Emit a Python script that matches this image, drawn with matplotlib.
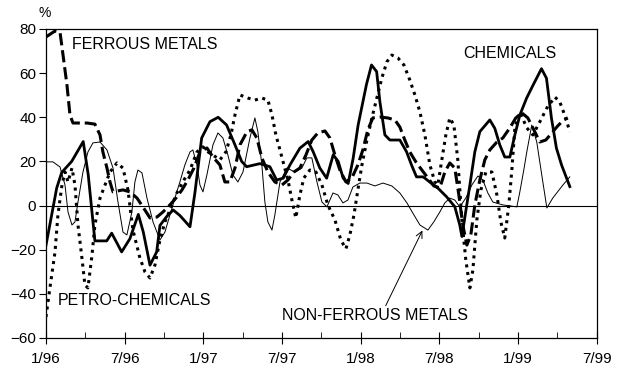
import numpy as np
import matplotlib
matplotlib.use('Agg')
import matplotlib.pyplot as plt

plt.rcParams['font.family'] = ['Liberation Sans', 'DejaVu Sans']

# x positions are months since 1/96
chem_m = [0, 0.82, 1.2, 1.96, 2.84, 3.22, 3.73, 4.63, 5.01, 5.77, 6.4, 7.04, 7.42, 7.93, 8.44,
          8.69, 9.2, 9.7, 10.21, 10.98, 11.36, 11.87, 12.5, 13.13, 13.77, 14.41, 14.92, 15.3,
          16.31, 17.07, 17.58, 18.09, 18.6, 19.36, 19.99, 20.37, 20.88, 21.4, 21.9, 22.28, 22.66,
          23.04, 23.42, 23.8, 24.44, 24.82, 25.21, 25.46, 25.84, 26.22, 26.98, 27.49, 27.87,
          28.25, 28.76, 29.4, 29.9, 30.54, 31.17, 31.55, 31.71, 32.32, 32.7, 33.08, 33.84, 34.22,
          34.6, 34.98, 35.37, 35.75, 36.13, 36.64, 37.14, 37.78, 38.16, 38.54, 38.92, 39.31, 39.94]
chem_v = [-18, 8, 15, 20, 29, 14, -16, -16, -12.5, -21, -15, -4, -12, -27, -21,
          -9, -5, -2, -4.5, -9.6, 6, 30.6, 38, 40, 36.5, 27.5, 20, 17.6,
          19, 17.6, 11.6, 12.4, 18.4, 26, 29, 24.4, 17, 12.4, 23, 20, 12.4,
          10, 21.4, 36.5, 55, 63.7, 60.7, 47, 32, 29.7, 29.7, 24.4, 18.4,
          13, 13, 10, 7.8, 4, -0.5, -8.8, -14, 9.3, 24.4, 33.5, 38.8, 35,
          27.5, 22, 22, 32, 41, 48.6, 54.6, 62, 57.7, 39.6, 26, 18.4, 8.6]

ferr_m = [0, 0.69, 1.07, 1.3, 1.6, 1.83, 2.06, 3.13, 3.73, 4.12, 4.34, 4.65, 4.88, 5.11, 5.87,
          6.4, 6.94, 7.39, 7.93, 8.46, 8.92, 9.45, 9.91, 10.37, 10.82, 11.28, 11.74, 12.27,
          12.73, 13.26, 13.64, 14.02, 14.41, 14.79, 15.32, 15.7, 16.08, 16.46, 16.92, 17.45,
          17.99, 18.45, 18.9, 19.36, 19.82, 20.27, 20.73, 21.27, 21.65, 22.03, 22.41, 22.87,
          23.32, 23.78, 24.16, 24.54, 24.92, 25.46, 26.07, 26.6, 26.98, 27.36, 27.74, 28.2,
          28.66, 29.12, 29.57, 30.03, 30.41, 30.79, 31.17, 31.48, 31.78, 32.09, 32.39, 32.7,
          33.08, 33.46, 33.84, 34.38, 34.83, 35.37, 35.82, 36.28, 36.74, 37.2, 37.65, 38.11,
          38.57, 39.02, 39.48, 39.79]
ferr_v = [76.4, 79.1, 78.6, 68.2, 54.6, 41.0, 37.4, 37.4, 36.9, 32.0, 24.3, 17.0, 10.7, 6.2, 7.1,
          6.2, 3.4, -0.6, -5.6, -5.2, -2.9, 0.3, 3.4, 7.1, 11.6, 17.0, 24.3, 26.1,
          22.0, 18.4, 10.7, 10.7, 17.0, 27.5, 33.4, 34.3, 30.6, 21.6, 15.2, 10.7,
          9.3, 11.6, 15.2, 17.0, 22.9, 29.7, 32.9, 33.8, 30.6, 22.9, 16.1, 10.7,
          12.5, 18.4, 25.2, 34.3, 39.7, 40.1, 39.7, 38.8, 35.6, 29.7, 24.3, 19.8,
          16.1, 12.5, 8.9, 8.0, 15.2, 19.3, 17.0, 4.8, -8.8, -17.9, -13.4, 0.3,
          11.6, 20.7, 25.2, 28.8, 30.6, 35.2, 39.7, 42.0, 39.7, 34.3, 28.8, 29.7,
          32.9, 36.1, 38.8, 39.7]

petro_m = [0, 0.3, 0.69, 0.91, 1.22, 1.45, 1.68, 1.98, 2.21, 2.44, 2.74, 2.97, 3.2, 3.51, 3.73,
           4.12, 4.5, 4.88, 5.41, 5.87, 6.25, 6.63, 7.16, 7.55, 7.93, 8.31, 8.69, 9.07, 9.45,
           9.98, 10.52, 10.98, 11.51, 11.97, 12.35, 12.73, 13.26, 13.72, 14.1, 14.41, 14.79,
           15.4, 15.93, 16.46, 16.92, 17.23, 17.53, 17.84, 18.14, 18.45, 18.75, 19.05, 19.36,
           19.66, 20.12, 20.58, 21.04, 21.49, 22.03, 22.48, 22.87, 23.17, 23.48, 23.78, 24.09,
           24.47, 24.85, 25.23, 25.61, 25.99, 26.37, 26.83, 27.29, 27.74, 28.13, 28.51, 28.89,
           29.27, 29.65, 29.88, 30.18, 30.49, 30.79, 31.1, 31.4, 31.71, 32.01, 32.32, 32.55,
           32.85, 33.16, 33.54, 34.0, 34.38, 34.68, 34.98, 35.29, 35.52, 35.75, 36.13, 36.66,
           37.12, 37.65, 38.19, 38.8, 39.18, 39.63, 39.94]
petro_v = [-50.5, -37.3, -21.0, -4.3, 9.3, 15.2, 10.7, 17.0, 9.3, -8.8, -23.7, -36.0, -37.3, -22.4, -8.8,
           3.4, 9.3, 15.2, 19.3, 17.0, 7.1, -11.1, -23.7, -30.1, -32.8, -26.9, -15.6, -7.4, -2.0,
           5.7, 11.6, 16.1, 24.3, 26.6, 24.3, 22.9, 20.7, 24.3, 32.0, 41.1, 50.1,
           48.7, 47.8, 48.7, 47.8, 41.1, 32.0, 25.2, 18.4, 11.6, 2.5, -5.6, 4.8,
           12.5, 16.1, 15.2, 9.3, 0.3, -6.5, -15.6, -19.6, -13.3, -4.3, 7.1, 18.4,
           29.7, 39.7, 48.8, 57.8, 65.1, 68.2, 66.9, 63.7, 56.9, 50.1, 42.4, 32.0,
           18.4, 10.7, 9.3, 20.7, 32.0, 39.7, 36.5, 20.7, -6.5, -24.6, -37.3, -29.2,
           -6.5, 7.1, 15.2, 15.2, 4.8, -7.4, -14.7, 0.3, 16.1, 35.2, 42.4, 35.2,
           32.0, 37.9, 44.2, 49.2, 46.9, 39.7, 33.4]

nonf_m = [0, 0.53, 1.07, 1.45, 1.68, 1.98, 2.21, 2.44, 2.82, 3.2, 3.58, 4.12, 4.65, 5.11, 5.49,
          5.87, 6.17, 6.55, 6.78, 7.01, 7.32, 7.7, 8.16, 8.69, 9.07, 9.45, 9.83, 10.21, 10.59,
          10.98, 11.2, 11.51, 11.74, 11.97, 12.27, 12.73, 13.11, 13.49, 13.87, 14.25, 14.63,
          15.02, 15.55, 15.93, 16.16, 16.46, 16.69, 16.92, 17.23, 17.45, 17.84, 18.37, 18.98,
          19.51, 19.89, 20.27, 20.66, 21.04, 21.42, 21.88, 22.26, 22.64, 23.02, 23.4, 23.93,
          24.47, 25.08, 25.69, 26.37, 26.98, 27.52, 27.97, 28.51, 29.12, 29.57, 30.03, 30.41,
          30.79, 31.17, 31.55, 32.01, 32.47, 32.93, 33.31, 33.69, 34.07, 34.83, 35.9, 36.13,
          36.43, 36.66, 37.04, 37.42, 37.8, 38.19, 38.64, 39.41, 39.94]
nonf_v = [19.8, 19.8, 17.5, 9.3, -2.9, -8.8, -7.4, 1.6, 15.2, 24.3, 28.4, 28.8, 25.2, 17.0, 1.6,
          -12.0, -13.3, -2.9, 10.7, 16.1, 14.8, 3.4, -7.4, -15.6, -12.0, -4.3, 3.4, 10.7, 18.4,
          24.3, 25.2, 18.4, 9.3, 6.2, 13.9, 27.5, 32.9, 30.6, 22.9, 13.9, 10.7,
          15.2, 30.6, 39.7, 33.3, 18.4, 1.6, -7.4, -11.1, -4.3, 10.7, 17.0, 15.2,
          17.0, 21.6, 21.6, 10.7, 1.6, -0.6, 5.7, 4.8, 1.2, 2.5, 8.4, 10.2,
          10.2, 8.9, 10.2, 8.9, 5.7, 1.2, -3.4, -8.8, -11.1, -7.4, -2.9, 1.2,
          3.4, 2.5, -0.6, 3.4, 9.3, 13.4, 11.6, 5.7, 1.6, 0.3, -0.6, 6.2,
          16.1, 24.3, 36.5, 28.8, 13.9, -1.1, 3.4, 9.3, 13.0]

tick_labels = ['1/96', '7/96', '1/97', '7/97', '1/98', '7/98', '1/99', '7/99']

fig = plt.figure(figsize=(6.23, 3.83), dpi=100)
ax = fig.add_axes([0.0738, 0.1175, 0.8842, 0.8068])

ax.axhline(0, color='black', lw=0.8, zorder=1)
ax.plot(nonf_m, nonf_v, color='black', lw=0.7)
ax.plot(chem_m, chem_v, color='black', lw=2.0)
ax.plot(ferr_m, ferr_v, color='black', lw=2.2, dashes=(4, 1.6))
ax.plot(petro_m, petro_v, color='black', lw=2.2, dashes=(1.0, 1.5))

ax.set_xlim(0, 42)
ax.set_ylim(-60, 80)
ax.set_xticks(np.arange(0, 43, 6))
ax.set_xticklabels(tick_labels)
ax.set_xticks(np.arange(3, 42, 6), minor=True)
ax.set_yticks(np.arange(-60, 81, 20))
ax.tick_params(axis='x', which='major', direction='inout', length=8, labelsize=11, pad=6)
ax.tick_params(axis='x', which='minor', direction='in', length=4)
ax.tick_params(axis='y', direction='out', length=5, labelsize=11, pad=2)
for s in ax.spines.values():
    s.set_linewidth(0.9)

ax.text(1.98, 73.2, 'FERROUS METALS', fontsize=11.5, va='center')
ax.text(31.8, 68.7, 'CHEMICALS', fontsize=11.5, va='center')
ax.text(0.91, -43.2, 'PETRO-CHEMICALS', fontsize=11.5, va='center')
ax.annotate('NON-FERROUS METALS', xy=(28.7, -11.3), xytext=(18.0, -50),
            fontsize=11.5, va='center',
            arrowprops=dict(arrowstyle='->', lw=0.7, color='black',
                            shrinkA=0, shrinkB=0, relpos=(0.55, 1.0)))
fig.text(0.071, 0.966, '%', fontsize=10, ha='center', va='center')

fig.savefig('out.png', dpi=100)
